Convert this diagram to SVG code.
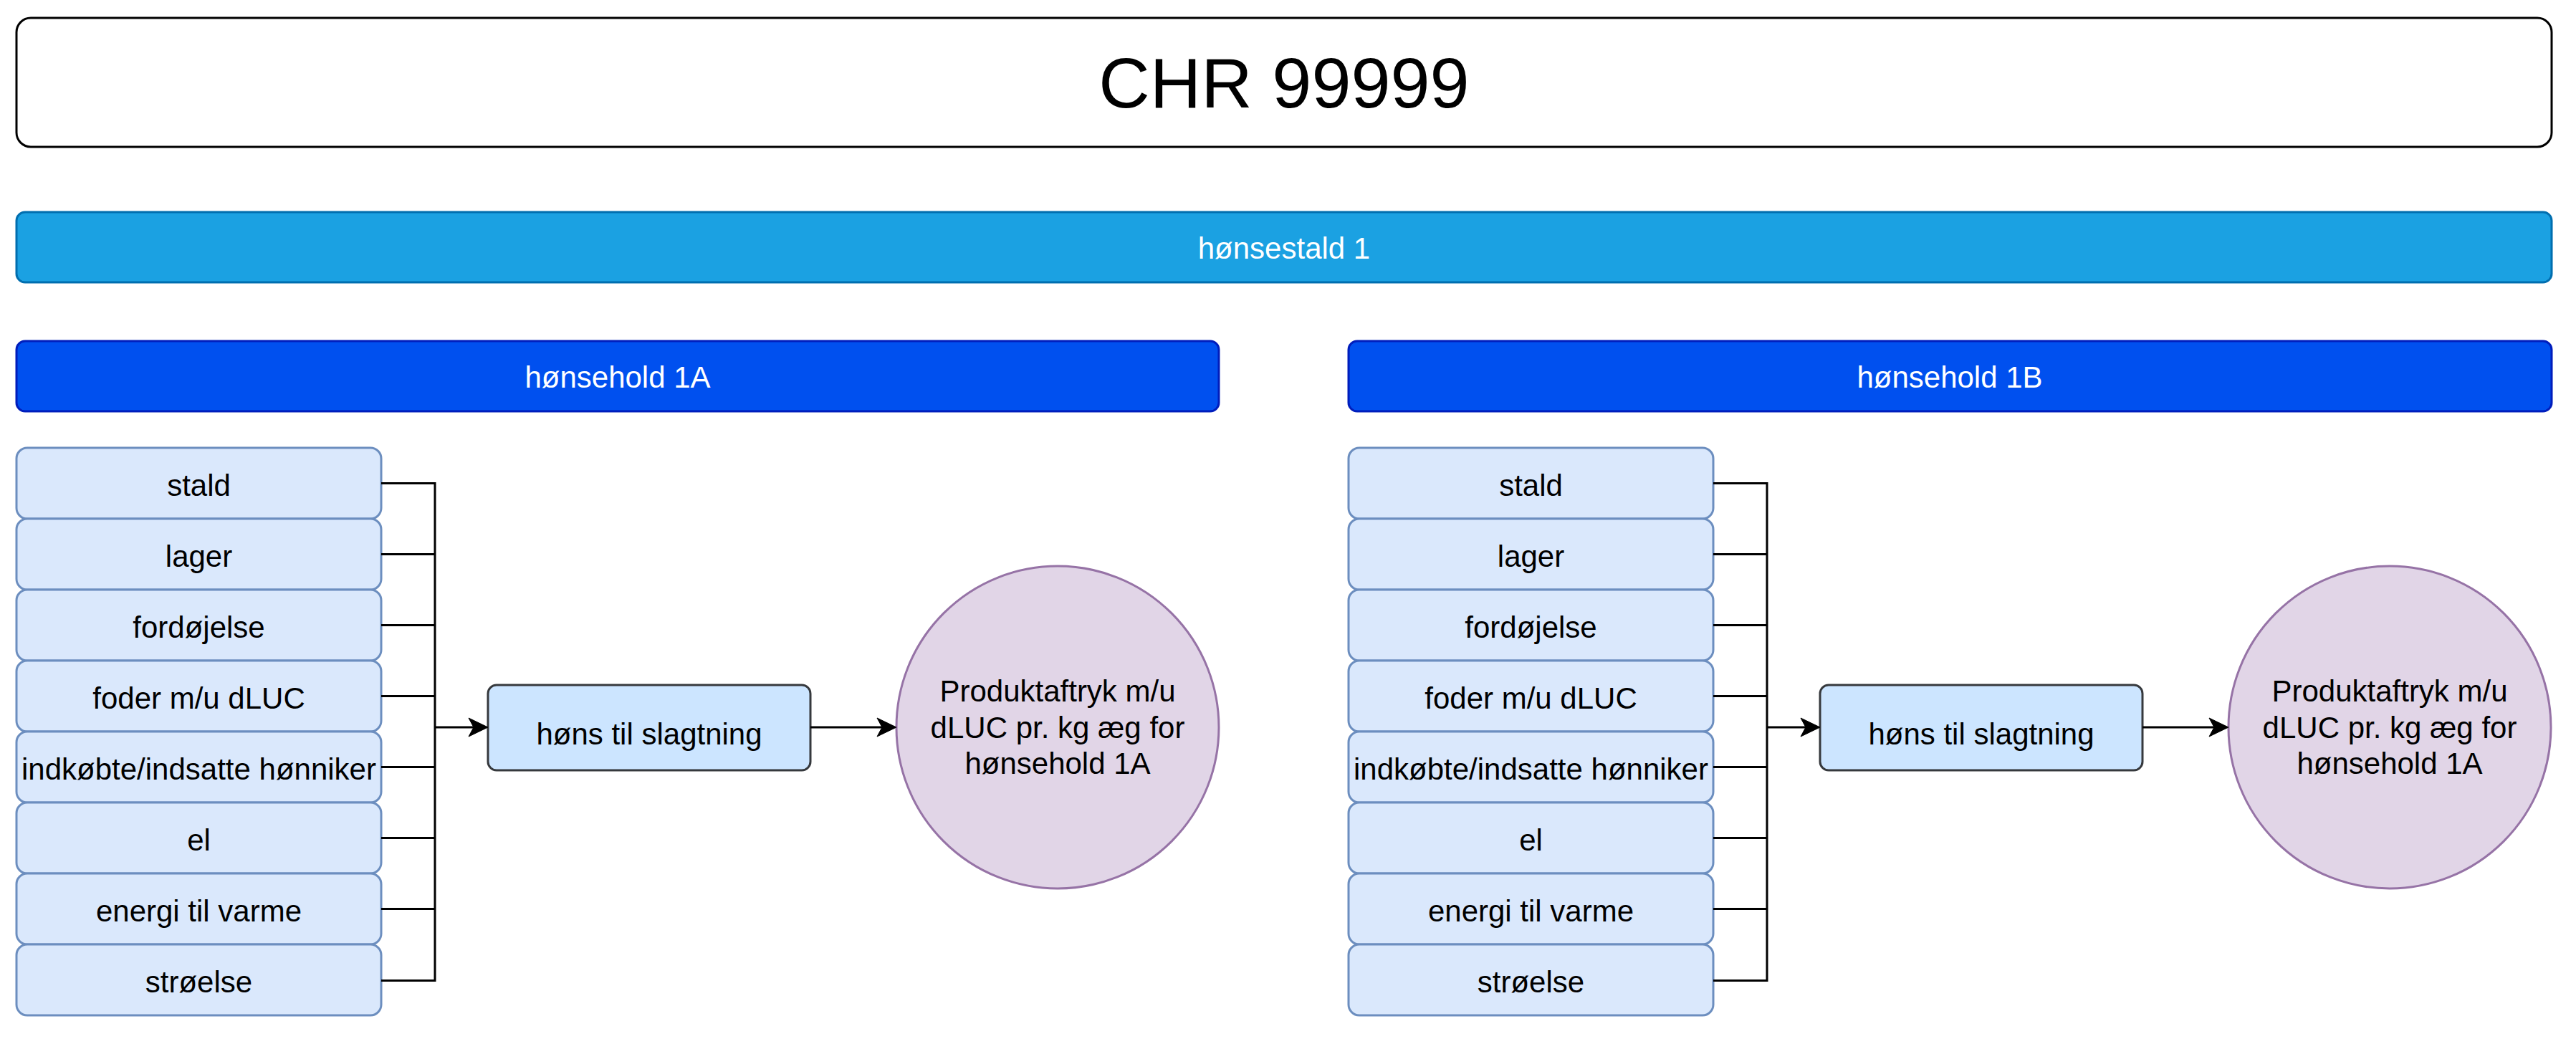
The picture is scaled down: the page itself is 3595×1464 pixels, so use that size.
<svg xmlns="http://www.w3.org/2000/svg" width="3595" height="1464" viewBox="0 0 3595 1464">
<style>
text{font-family:"Liberation Sans",Arial,sans-serif;text-anchor:middle}
.t{font-size:42px;fill:#000}
.w{font-size:42px;fill:#fff}
.title{font-size:99px;fill:#000}
.in{fill:#dae8fc;stroke:#6c8ebf;stroke-width:3}
.mid{fill:#cce5ff;stroke:#36393d;stroke-width:3}
.res{fill:#e1d5e7;stroke:#9673a6;stroke-width:3}
.con{fill:none;stroke:#000;stroke-width:3}
</style>
<defs>
<marker id="arr" markerUnits="userSpaceOnUse" markerWidth="32" markerHeight="30" viewBox="0 0 32 30" refX="22" refY="15" orient="auto">
<path d="M1,2 L28,15 L1,28 L8,15 Z" fill="#000" stroke="#000" stroke-width="1"/>
</marker>
</defs>
<rect width="3595" height="1464" fill="#fff"/>
<g id="title"><rect x="23" y="25" width="3538" height="180" rx="20" fill="#fff" stroke="#000" stroke-width="3"/><text class="title" x="1792" y="150">CHR 99999</text></g>
<g id="stald1"><rect x="23" y="296" width="3538" height="98" rx="12" fill="#1ba1e2" stroke="#006eaf" stroke-width="3"/><text class="w" x="1792" y="361">hønsestald 1</text></g>
<g id="hold1A"><rect x="23" y="476" width="1678" height="98" rx="12" fill="#0050ef" stroke="#001dbc" stroke-width="3"/><text class="w" x="862" y="541">hønsehold 1A</text></g>
<g id="hold1B"><rect x="1882" y="476" width="1679" height="98" rx="12" fill="#0050ef" stroke="#001dbc" stroke-width="3"/><text class="w" x="2721" y="541">hønsehold 1B</text></g>

<g id="a-stald"><rect class="in" x="23" y="625" width="509" height="99" rx="15"/><text class="t" x="277.5" y="692">stald</text></g>
<g id="a-lager"><rect class="in" x="23" y="724" width="509" height="99" rx="15"/><text class="t" x="277.5" y="791">lager</text></g>
<g id="a-fordojelse"><rect class="in" x="23" y="823" width="509" height="99" rx="15"/><text class="t" x="277.5" y="890">fordøjelse</text></g>
<g id="a-foder"><rect class="in" x="23" y="922" width="509" height="99" rx="15"/><text class="t" x="277.5" y="989">foder m/u dLUC</text></g>
<g id="a-indkobte"><rect class="in" x="23" y="1021" width="509" height="99" rx="15"/><text class="t" x="277.5" y="1088">indkøbte/indsatte hønniker</text></g>
<g id="a-el"><rect class="in" x="23" y="1120" width="509" height="99" rx="15"/><text class="t" x="277.5" y="1187">el</text></g>
<g id="a-energi"><rect class="in" x="23" y="1219" width="509" height="99" rx="15"/><text class="t" x="277.5" y="1286">energi til varme</text></g>
<g id="a-stroelse"><rect class="in" x="23" y="1318" width="509" height="99" rx="15"/><text class="t" x="277.5" y="1385">strøelse</text></g>
<g id="a-hons"><rect class="mid" x="681" y="956" width="450" height="119" rx="12"/><text class="t" x="906" y="1039">høns til slagtning</text></g>
<g id="a-result"><circle class="res" cx="1476" cy="1015" r="225"/><text class="t" x="1476" y="979">Produktaftryk m/u</text><text class="t" x="1476" y="1029.5">dLUC pr. kg æg for</text><text class="t" x="1476" y="1080">hønsehold 1A</text></g>

<g id="b-stald"><rect class="in" x="1882" y="625" width="509" height="99" rx="15"/><text class="t" x="2136.5" y="692">stald</text></g>
<g id="b-lager"><rect class="in" x="1882" y="724" width="509" height="99" rx="15"/><text class="t" x="2136.5" y="791">lager</text></g>
<g id="b-fordojelse"><rect class="in" x="1882" y="823" width="509" height="99" rx="15"/><text class="t" x="2136.5" y="890">fordøjelse</text></g>
<g id="b-foder"><rect class="in" x="1882" y="922" width="509" height="99" rx="15"/><text class="t" x="2136.5" y="989">foder m/u dLUC</text></g>
<g id="b-indkobte"><rect class="in" x="1882" y="1021" width="509" height="99" rx="15"/><text class="t" x="2136.5" y="1088">indkøbte/indsatte hønniker</text></g>
<g id="b-el"><rect class="in" x="1882" y="1120" width="509" height="99" rx="15"/><text class="t" x="2136.5" y="1187">el</text></g>
<g id="b-energi"><rect class="in" x="1882" y="1219" width="509" height="99" rx="15"/><text class="t" x="2136.5" y="1286">energi til varme</text></g>
<g id="b-stroelse"><rect class="in" x="1882" y="1318" width="509" height="99" rx="15"/><text class="t" x="2136.5" y="1385">strøelse</text></g>
<g id="b-hons"><rect class="mid" x="2540" y="956" width="450" height="119" rx="12"/><text class="t" x="2765" y="1039">høns til slagtning</text></g>
<g id="b-result"><circle class="res" cx="3335" cy="1015" r="225"/><text class="t" x="3335" y="979">Produktaftryk m/u</text><text class="t" x="3335" y="1029.5">dLUC pr. kg æg for</text><text class="t" x="3335" y="1080">hønsehold 1A</text></g>

<g id="connectors">
<path class="con" d="M532,674.5H607V1368.5H532M532,773.5H607M532,872.5H607M532,971.5H607M532,1070.5H607M532,1169.5H607M532,1268.5H607"/>
<path class="con" d="M607,1015H675" marker-end="url(#arr)"/>
<path class="con" d="M1131,1015H1245" marker-end="url(#arr)"/>
<path class="con" d="M2391,674.5H2466V1368.5H2391M2391,773.5H2466M2391,872.5H2466M2391,971.5H2466M2391,1070.5H2466M2391,1169.5H2466M2391,1268.5H2466"/>
<path class="con" d="M2466,1015H2534" marker-end="url(#arr)"/>
<path class="con" d="M2990,1015H3104" marker-end="url(#arr)"/>
</g>
</svg>
